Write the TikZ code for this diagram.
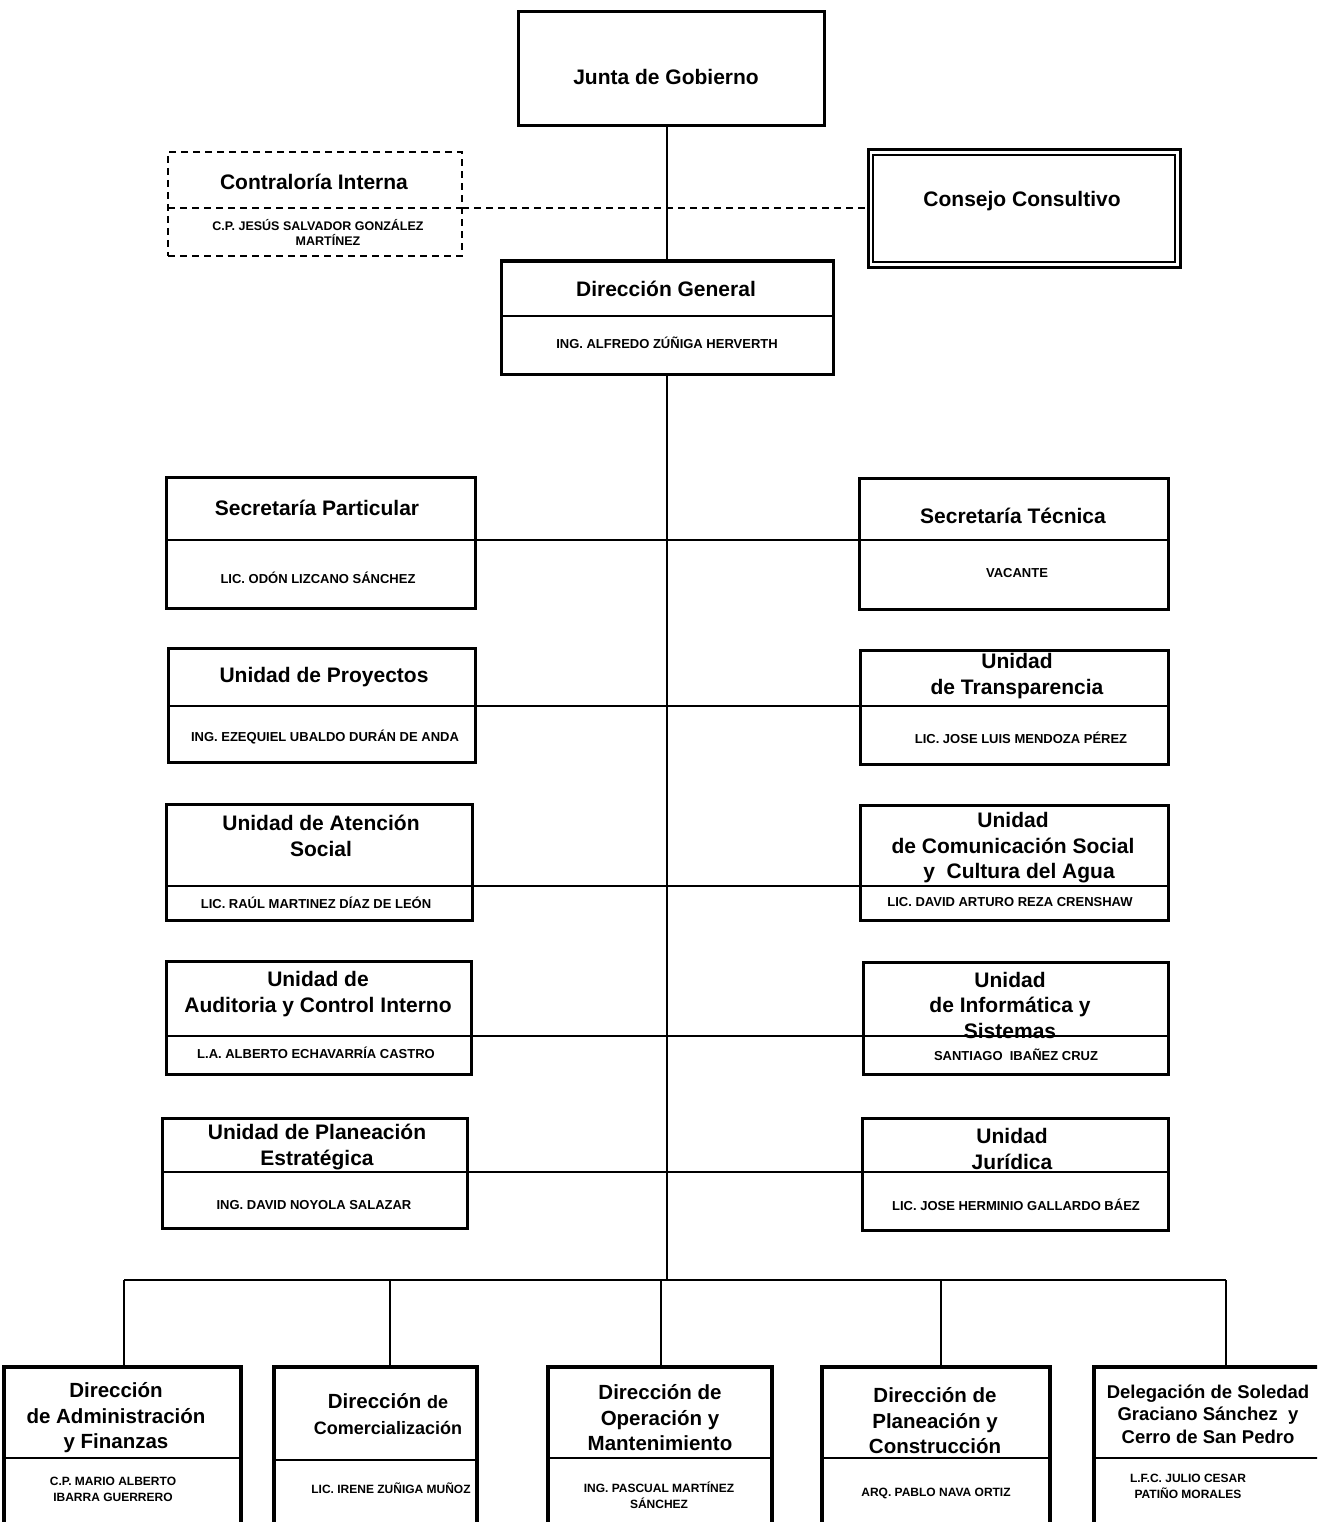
\documentclass[tikz,border=0pt]{standalone}
\usepackage{fontspec}
\setmainfont{Liberation Sans}
\newcommand\obox[6][]{\node[bx,#1, minimum width={(#4-#2)*1pt}, minimum height={(#5-#3)*1pt}] (#6) at ({(#2+#4)/2},{(#3+#5)/2}) {};}
\begin{document}
\begin{tikzpicture}[x=1pt,y=-1pt,
  bx/.style={draw, line width=3pt, rectangle, inner sep=0pt, outer sep=0pt},
  dv/.style={line width=2pt},
  ln/.style={line width=2pt},
  dsh/.style={line width=2pt, dash pattern=on 7pt off 5pt},
  ttl/.style={font=\fontsize{21}{25.5}\selectfont\bfseries, align=center, inner sep=0pt},
  tts/.style={font=\fontsize{20.5}{25.5}\selectfont\bfseries, align=center, inner sep=0pt},
  nm/.style={font=\fontsize{13}{16}\selectfont\bfseries, align=center, inner sep=0pt},
]
\useasboundingbox (0,0) rectangle (1317,1522);
\fill[white] (0,0) rectangle (1317,1522);
\clip (0,0) rectangle (1317,1522);

% top
\obox{518}{12}{824}{126}{jg}
\node[ttl] (jgT) at (666,77) {Junta de Gobierno};

\obox[dsh]{168}{152}{462}{256}{ci}
\node[ttl] (ciT) at (314,182) {Contraloría Interna};
\node[nm, font=\fontsize{12.5}{15}\selectfont\bfseries] (ciN) at (318,232) {C.P. JESÚS SALVADOR GONZÁLEZ\\\hspace*{20pt}MARTÍNEZ};

\obox[line width=3pt]{868}{150}{1180}{267}{cc}
\draw[line width=1.5pt] ([shift={(5,5)}]cc.north west) rectangle ([shift={(-5,-5)}]cc.south east);
\node[ttl] (ccT) at (1022,201) {Consejo Consultivo};

\draw[dsh] (ci.west |- 0,208) -- (ci.east |- 0,208);
\draw[dsh] (ci.east |- 0,208) -- (cc.west |- 0,208);

\obox{501}{261}{833}{374}{dg}
\draw[dv] (dg.west |- 0,316) -- (dg.east |- 0,316);
\node[ttl] (dgT) at (666,289) {Dirección General};
\node[nm] (dgN) at (667,343) {ING. ALFREDO ZÚÑIGA HERVERTH};

\draw[ln] (dg.north |- jg.south) -- (dg.north);
\coordinate (busC) at (667,1280);
\draw[ln] (dg.south) -- (busC);

% pair 1
\obox{166}{477}{475}{608}{sp}
\obox{859}{478}{1168}{609}{st}
\draw[dv] (sp.west |- 0,540) -- (sp.east |- 0,540);
\draw[dv] (st.west |- 0,540) -- (st.east |- 0,540);
\draw[ln] (sp.east |- 0,540) -- (st.west |- 0,540);
\node[ttl] (spT) at (317,508) {Secretaría Particular};
\node[nm] (spN) at (318,578) {LIC. ODÓN LIZCANO SÁNCHEZ};
\node[ttl] (stT) at (1013,516) {Secretaría Técnica};
\node[nm] (stN) at (1017,573) {VACANTE};

% pair 2
\obox{168}{648}{475}{762}{up}
\obox{860}{650}{1168}{764}{ut}
\draw[dv] (up.west |- 0,706) -- (up.east |- 0,706);
\draw[dv] (ut.west |- 0,706) -- (ut.east |- 0,706);
\draw[ln] (up.east |- 0,706) -- (ut.west |- 0,706);
\node[ttl] (upT) at (324,677) {Unidad de Proyectos};
\node[nm] (upN) at (325,737) {ING. EZEQUIEL UBALDO DURÁN DE ANDA};
\node[ttl] (utT) at (1017,676) {Unidad\\de Transparencia};
\node[nm] (utN) at (1021,738) {LIC. JOSE LUIS MENDOZA PÉREZ};

% pair 3
\obox{166}{804}{472}{920}{ua}
\obox{860}{805}{1168}{920}{uc}
\draw[dv] (ua.west |- 0,886) -- (ua.east |- 0,886);
\draw[dv] (uc.west |- 0,886) -- (uc.east |- 0,886);
\draw[ln] (ua.east |- 0,886) -- (uc.west |- 0,886);
\node[ttl] (uaT) at (321,836) {Unidad de Atención\\Social};
\node[nm] (uaN) at (316,903) {LIC. RAÚL MARTINEZ DÍAZ DE LEÓN};
\node[ttl] (ucT) at (1013,848) {Unidad\\de Comunicación Social\\\hspace*{12pt}y\ \ Cultura del Agua};
\node[nm] (ucN) at (1010,902) {LIC. DAVID ARTURO REZA CRENSHAW};

% pair 4
\obox{166}{961}{471}{1074}{uu}
\obox{863}{962}{1168}{1074}{ui}
\draw[dv] (uu.west |- 0,1036) -- (uu.east |- 0,1036);
\draw[dv] (ui.west |- 0,1036) -- (ui.east |- 0,1036);
\draw[ln] (uu.east |- 0,1036) -- (ui.west |- 0,1036);
\node[ttl] (uuT) at (318,994) {Unidad de\\Auditoria y Control Interno};
\node[nm] (uuN) at (316,1053) {L.A. ALBERTO ECHAVARRÍA CASTRO};
\node[ttl] (uiT) at (1010,1005) {Unidad\\de Informática y\\Sistemas};
\node[nm] (uiN) at (1016,1055) {SANTIAGO\ \ IBAÑEZ CRUZ};

% pair 5
\obox{162}{1118}{467}{1228}{ue}
\obox{862}{1118}{1168}{1230}{uj}
\draw[dv] (ue.west |- 0,1172) -- (ue.east |- 0,1172);
\draw[dv] (uj.west |- 0,1172) -- (uj.east |- 0,1172);
\draw[ln] (ue.east |- 0,1172) -- (uj.west |- 0,1172);
\node[ttl] (ueT) at (317,1147) {Unidad de Planeación\\Estratégica};
\node[nm] (ueN) at (314,1205) {ING. DAVID NOYOLA SALAZAR};
\node[ttl] (ujT) at (1012,1149) {Unidad\\Jurídica};
\node[nm] (ujN) at (1016,1205) {LIC. JOSE HERMINIO GALLARDO BÁEZ};

% bottom row
\obox[line width=4pt]{4}{1367}{241}{1545}{b1}
\obox[line width=4pt]{274}{1367}{477}{1545}{b2}
\obox[line width=4pt]{548}{1367}{772}{1545}{b3}
\obox[line width=4pt]{822}{1367}{1050}{1545}{b4}
\obox[line width=4pt]{1094}{1367}{1345}{1545}{b5}
\draw[dv] (b1.west |- 0,1458) -- (b1.east |- 0,1458);
\draw[dv] (b2.west |- 0,1460) -- (b2.east |- 0,1460);
\draw[dv] (b3.west |- 0,1458) -- (b3.east |- 0,1458);
\draw[dv] (b4.west |- 0,1458) -- (b4.east |- 0,1458);
\draw[dv] (b5.west |- 0,1458) -- (b5.east |- 0,1458);

\coordinate (d1) at (124,1280);
\coordinate (d2) at (390,1280);
\coordinate (d3) at (661,1280);
\coordinate (d4) at (941,1280);
\coordinate (d5) at (1226,1280);
\draw[ln] (d1) -- (d5);
\draw[ln] (d1) -- (d1 |- b1.north);
\draw[ln] (d2) -- (d2 |- b2.north);
\draw[ln] (d3) -- (d3 |- b3.north);
\draw[ln] (d4) -- (d4 |- b4.north);
\draw[ln] (d5) -- (d5 |- b5.north);

\node[tts] (b1T) at (116,1418) {Dirección\\de Administración\\y Finanzas};
\node[nm, font=\fontsize{12}{16}\selectfont\bfseries] (b1N) at (113,1489) {C.P. MARIO ALBERTO\\IBARRA GUERRERO};
\node[tts] (b2T) at (388,1414) {Dirección {\fontsize{18}{25.5}\selectfont de}\\{\fontsize{18}{25.5}\selectfont Comercialización}};
\node[nm, font=\fontsize{12}{16}\selectfont\bfseries] (b2N) at (391,1488) {LIC. IRENE ZUÑIGA MUÑOZ};
\node[tts] (b3T) at (660,1418) {Dirección de\\Operación y\\Mantenimiento};
\node[nm, font=\fontsize{12}{16}\selectfont\bfseries] (b3N) at (659,1495) {ING. PASCUAL MARTÍNEZ\\SÁNCHEZ};
\node[tts] (b4T) at (935,1421) {Dirección de\\Planeación y\\Construcción};
\node[nm, font=\fontsize{12}{16}\selectfont\bfseries] (b4N) at (936,1493) {ARQ. PABLO NAVA ORTIZ};
\node[tts, font=\fontsize{18.5}{22.5}\selectfont\bfseries] (b5T) at (1208,1414) {Delegación de Soledad\\Graciano Sánchez\ \ y\\Cerro de San Pedro};
\node[nm, font=\fontsize{12}{16}\selectfont\bfseries] (b5N) at (1188,1486) {L.F.C. JULIO CESAR\\PATIÑO MORALES};
\end{tikzpicture}
\end{document}
